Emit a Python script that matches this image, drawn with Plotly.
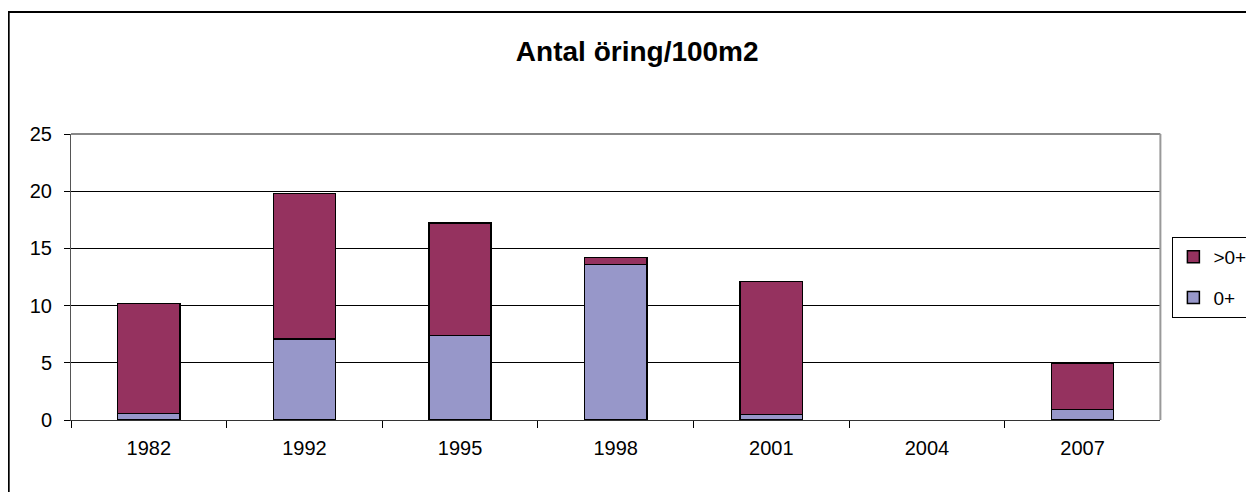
import plotly.graph_objects as go

years = ['1982', '1992', '1995', '1998', '2001', '2004', '2007']
yngel = [0.55, 7.1, 7.4, 13.6, 0.5, None, 0.9]          # 0+
aldre = [9.65, 12.7, 9.8, 0.6, 11.6, None, 4.1]          # >0+
y_ticks = [0, 5, 10, 15, 20, 25]

FONT = 'Liberation Sans, Arial, sans-serif'

fig = go.Figure()
fig.add_trace(go.Bar(x=years, y=yngel, name='0+', legendrank=2, legendgroup='b',
                     marker=dict(color='#9797c9', line=dict(color='black', width=1.5))))
fig.add_trace(go.Bar(x=years, y=aldre, name='>0+', legendrank=1, legendgroup='a',
                     marker=dict(color='#95325f', line=dict(color='black', width=1.5))))

fig.update_layout(
    width=1246, height=484,
    margin=dict(l=63, r=90, t=126, b=72),
    barmode='stack', bargap=0.6,
    paper_bgcolor='white', plot_bgcolor='white',
    font=dict(family=FONT, size=20, color='black'),
    title=dict(text='<b>Antal öring/100m2</b>', x=0.505, xanchor='center',
               y=0.91, yanchor='middle', font=dict(size=28)),
    legend=dict(xref='container', yref='container', x=0.9345, y=0.527,
                xanchor='left', yanchor='top',
                traceorder='grouped', tracegroupgap=13,
                bordercolor='black', borderwidth=1, bgcolor='white',
                font=dict(size=19)),
    xaxis=dict(type='category', tickson='boundaries', ticks='outside', ticklen=7,
               tickcolor='black', showline=True, linecolor='#333333', linewidth=1,
               ticklabelstandoff=10, showgrid=False, mirror=False),
    yaxis=dict(range=[0, 25], tickvals=y_ticks, ticks='outside', ticklen=6,
               tickcolor='black', showline=True, linecolor='#555555', linewidth=1,
               gridcolor='black', gridwidth=1, ticklabelstandoff=8, zeroline=False),
    shapes=[
        dict(type='line', xref='paper', yref='paper', x0=0, x1=1, y0=1, y1=1,
             line=dict(color='#888888', width=2)),
        dict(type='line', xref='paper', yref='paper', x0=1, x1=1, y0=0, y1=1,
             line=dict(color='#999999', width=2)),
        dict(type='rect', xref='paper', yref='paper', x0=-0.0572, x1=1.3,
             y0=-0.4, y1=1.4266, line=dict(color='black', width=2), layer='below'),
    ],
)

fig.write_html('out.html')
